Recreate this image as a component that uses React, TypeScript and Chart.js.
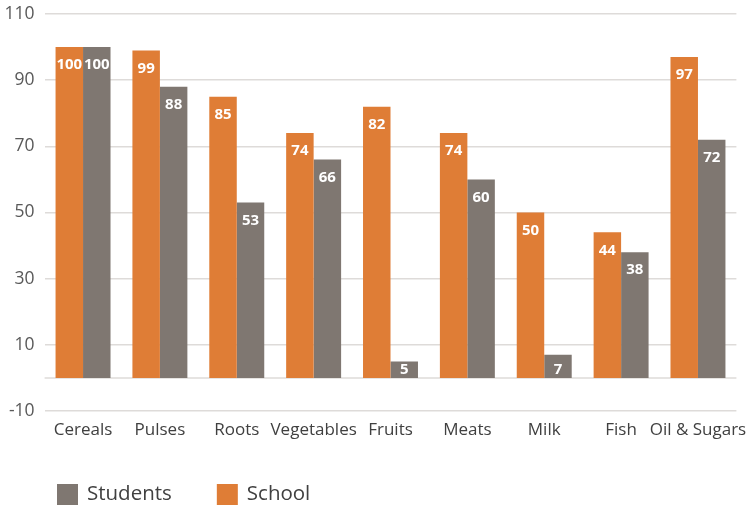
import React, { useEffect, useRef } from "react";
import { Chart, registerables } from "chart.js";

Chart.register(...registerables);

const categories = ["Cereals", "Pulses", "Roots", "Vegetables", "Fruits", "Meats", "Milk", "Fish", "Oil & Sugars"];
const schoolValues = [100, 99, 85, 74, 82, 74, 50, 44, 97];
const studentValues = [100, 88, 53, 66, 5, 60, 7, 38, 72];
const yTicks = [-10, 10, 30, 50, 70, 90, 110];

const ORANGE = "#DF7D36";
const GRAY = "#7F7771";
const FONT = "'Open Sans', 'Noto Sans', sans-serif";

const valueLabels = {
  id: "valueLabels",
  afterDatasetsDraw(chart: any) {
    const ctx = chart.ctx;
    const yScale = chart.scales.y;
    const base = yScale.getPixelForValue(0);
    ctx.save();
    ctx.fillStyle = "#FFFFFF";
    ctx.font = `bold 15px ${FONT}`;
    ctx.textAlign = "center";
    ctx.textBaseline = "middle";
    chart.data.datasets.forEach((ds: any, i: number) => {
      const meta = chart.getDatasetMeta(i);
      meta.data.forEach((bar: any, j: number) => {
        const y = Math.min(bar.y + 18, base - 8);
        ctx.fillText(String(ds.data[j]), bar.x, y);
      });
    });
    ctx.restore();
  },
};

const zeroLine = {
  id: "zeroLine",
  beforeDatasetsDraw(chart: any) {
    const ctx = chart.ctx;
    const y = chart.scales.y.getPixelForValue(0);
    ctx.save();
    ctx.strokeStyle = "#DEDBD9";
    ctx.lineWidth = 1.5;
    ctx.beginPath();
    ctx.moveTo(chart.chartArea.left, y);
    ctx.lineTo(chart.chartArea.right, y);
    ctx.stroke();
    ctx.restore();
  },
};

const customLegend = {
  id: "customLegend",
  afterDraw(chart: any) {
    const ctx = chart.ctx;
    const items = [...chart.data.datasets].reverse();
    let x = 57;
    const yTop = 484;
    const box = 21;
    ctx.save();
    ctx.font = `20.5px ${FONT}`;
    ctx.textBaseline = "middle";
    ctx.textAlign = "left";
    items.forEach((ds: any) => {
      ctx.fillStyle = ds.backgroundColor;
      ctx.fillRect(x, yTop, box, box);
      ctx.fillStyle = "#404040";
      const tx = x + box + 9;
      ctx.fillText(ds.label, tx, yTop + box / 2);
      x = tx + ctx.measureText(ds.label).width + 45;
    });
    ctx.restore();
  },
};

export default function App() {
  const ref = useRef<HTMLCanvasElement>(null);
  useEffect(() => {
    if (!ref.current) return;
    const chart = new Chart(ref.current, {
      type: "bar",
      data: {
        labels: categories,
        datasets: [
          { label: "School", data: schoolValues, backgroundColor: ORANGE, categoryPercentage: 0.715, barPercentage: 1 },
          { label: "Students", data: studentValues, backgroundColor: GRAY, categoryPercentage: 0.715, barPercentage: 1 },
        ],
      },
      options: {
        animation: false,
        responsive: false,
        maintainAspectRatio: false,
        layout: { padding: { top: 14, right: 16.6, bottom: 60, left: 0 } },
        plugins: {
          legend: { display: false },
          tooltip: { enabled: false },
        },
        scales: {
          x: {
            grid: { display: false, drawTicks: false },
            border: { display: false },
            ticks: { color: "#404040", font: { family: FONT, size: 17 }, padding: 9, maxRotation: 0, autoSkip: false },
            afterFit: (s: any) => { s.height = 37; s.paddingRight = 0; s.paddingLeft = 0; },
          },
          y: {
            min: -10,
            max: 110,
            afterBuildTicks: (s: any) => { s.ticks = yTicks.map((v) => ({ value: v })); },
            grid: { color: "#DEDBD9", lineWidth: 1.5, drawTicks: false },
            border: { display: false },
            ticks: { color: "#595959", font: { family: FONT, size: 17.5 }, padding: 10 },
            afterFit: (s: any) => { s.width = 44.6; s.paddingTop = 0; s.paddingBottom = 0; },
          },
        },
      },
      plugins: [zeroLine, valueLabels, customLegend],
    });
    return () => chart.destroy();
  }, []);
  return (
    <div style={{ position: "absolute", left: 0, top: 0, width: 753, height: 508, background: "#fff" }}>
      <canvas ref={ref} width={753} height={508} />
    </div>
  );
}
